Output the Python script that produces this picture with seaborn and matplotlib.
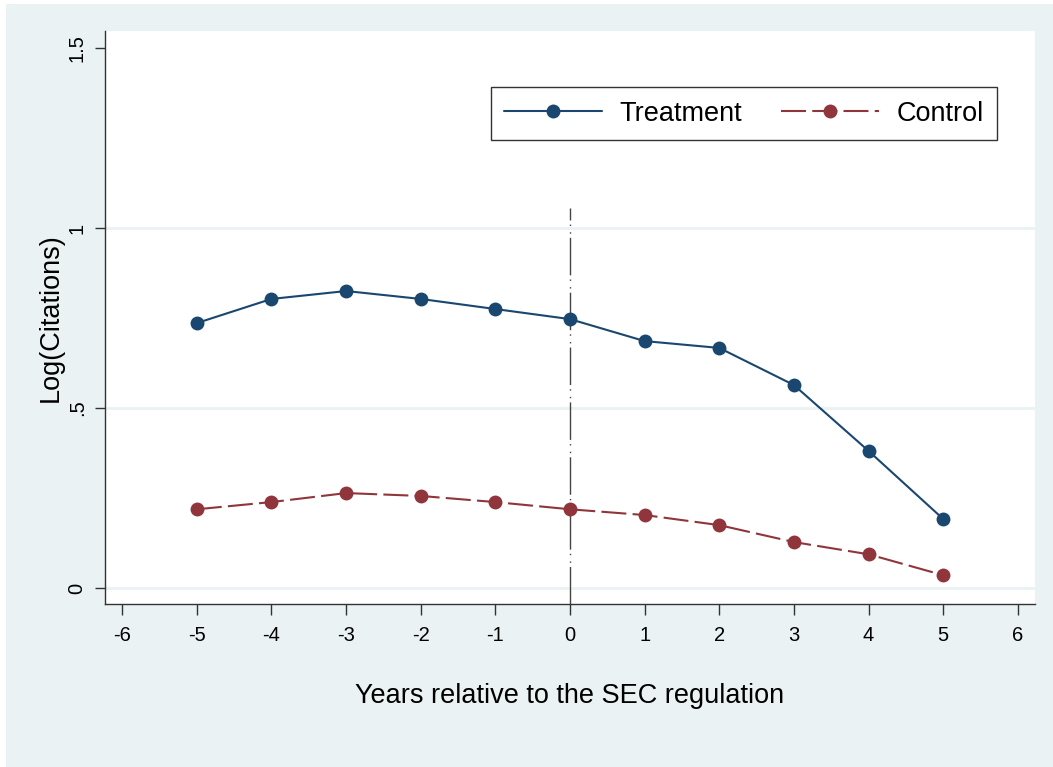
import matplotlib
matplotlib.use("Agg")
import matplotlib.pyplot as plt
from matplotlib.patches import Rectangle
import seaborn as sns
import pandas as pd

years = [-5, -4, -3, -2, -1, 0, 1, 2, 3, 4, 5]
treatment = [0.736, 0.803, 0.825, 0.803, 0.775, 0.747, 0.686, 0.667, 0.564, 0.381, 0.192]
control = [0.219, 0.239, 0.264, 0.256, 0.239, 0.219, 0.203, 0.175, 0.128, 0.094, 0.036]
x_ticks = [-6, -5, -4, -3, -2, -1, 0, 1, 2, 3, 4, 5, 6]
y_ticks = [0, 0.5, 1, 1.5]
y_ticklabels = ["0", ".5", "1", "1.5"]

sns.set_theme(style="white")
plt.rcParams["font.family"] = ["Liberation Sans", "DejaVu Sans"]
plt.rcParams["text.color"] = "black"

W, H = 1053, 767
fig = plt.figure(figsize=(W / 100, H / 100), dpi=100, facecolor="white")
fig.patches.append(Rectangle((6 / W, 0), (W - 6) / W, (H - 4) / H,
                             transform=fig.transFigure, facecolor="#EAF2F3",
                             edgecolor="none", zorder=-10))
ax = fig.add_axes([105 / W, 1 - 604 / H, 930 / W, 573 / H])
ax.set_zorder(1)
ax.set_facecolor("white")

navy = "#1A476F"
maroon = "#90353B"

df = pd.DataFrame({"year": years * 2,
                   "value": treatment + control,
                   "group": ["Treatment"] * len(years) + ["Control"] * len(years)})

for y in [0, 0.5, 1]:
    ax.axhline(y, color="#EAF2F3", lw=2, zorder=0)

sns.lineplot(data=df[df.group == "Treatment"], x="year", y="value", ax=ax,
             color=navy, lw=1.5, marker="o", markersize=10, markeredgewidth=0,
             label="Treatment", zorder=3)
sns.lineplot(data=df[df.group == "Control"], x="year", y="value", ax=ax,
             color=maroon, lw=1.5, marker="o", markersize=10, markeredgewidth=0,
             label="Control", zorder=3)
ax.lines[-1].set_dashes((12, 3))

ax.plot([0, 0], [-0.044, 1.056], color="#444444", lw=1.0,
        dashes=(27, 3, 1, 4.5, 1, 3), zorder=2)

ax.set_xlim(-6.23, 6.23)
ax.set_ylim(-0.044, 1.547)
ax.set_xticks(x_ticks)
ax.set_xticklabels([str(t) for t in x_ticks])
ax.set_yticks(y_ticks)
ax.set_yticklabels(y_ticklabels, rotation=90, va="center")
ax.tick_params(axis="both", direction="out", width=1, color="#333333",
               labelsize=14.5, labelcolor="black")
ax.tick_params(axis="x", bottom=True, length=8, pad=8)
ax.tick_params(axis="y", left=True, length=7.2, pad=6)

for s in ["top", "right"]:
    ax.spines[s].set_visible(False)
for s in ["left", "bottom"]:
    ax.spines[s].set_color("#333333")
    ax.spines[s].set_linewidth(1.0)

ax.set_xlabel("Years relative to the SEC regulation", fontsize=19.5, labelpad=27,
              color="black")
ax.set_ylabel("Log(Citations)", fontsize=19.5, labelpad=3, color="black")

leg = ax.legend(loc="upper right", bbox_to_anchor=(0.9595, 0.902), ncol=2,
                fontsize=19.5, frameon=True, fancybox=False, handlelength=3.6,
                handletextpad=0.65, columnspacing=1.45, borderpad=0.5,
                borderaxespad=0)
leg.get_frame().set_edgecolor("black")
leg.get_frame().set_linewidth(1.0)

fig.savefig("out.png", dpi=100, facecolor="white")
